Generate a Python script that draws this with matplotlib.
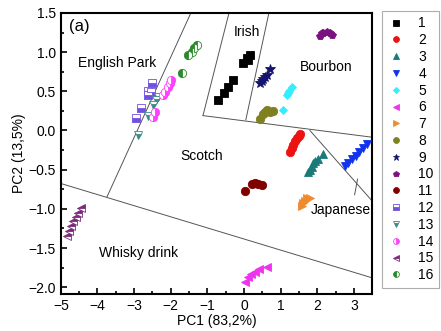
import matplotlib
matplotlib.use("Agg")
import matplotlib.pyplot as plt
from matplotlib.ticker import MultipleLocator

plt.rcParams['font.family'] = ['Liberation Sans', 'DejaVu Sans']

# PCA scores (PC1, PC2) per whisky group
g1_x = [-0.72, -0.55, -0.43, -0.29, -0.02, 0.07, 0.16, 0.1]
g1_y = [0.385, 0.48, 0.56, 0.65, 0.86, 0.92, 0.96, 0.9]
g2_x = [1.26, 1.3, 1.35, 1.4, 1.45, 1.5, 1.52]
g2_y = [-0.28, -0.22, -0.18, -0.14, -0.1, -0.07, -0.05]
g3_x = [1.76, 1.8, 1.85, 1.89, 1.95, 2.03, 2.17]
g3_y = [-0.53, -0.5, -0.47, -0.41, -0.39, -0.36, -0.3]
g4_x = [2.76, 2.85, 2.95, 3.05, 3.15, 3.25, 3.35]
g4_y = [-0.45, -0.41, -0.36, -0.32, -0.27, -0.22, -0.17]
g5_x = [1.06, 1.17, 1.2, 1.24, 1.3]
g5_y = [0.26, 0.45, 0.48, 0.51, 0.555]
g6_x = [0.02, 0.1, 0.2, 0.3, 0.4, 0.62]
g6_y = [-1.93, -1.87, -1.83, -1.8, -1.77, -1.74]
g7_x = [1.58, 1.62, 1.67, 1.72, 1.8]
g7_y = [-0.96, -0.92, -0.9, -0.86, -0.855]
g8_x = [0.44, 0.53, 0.58, 0.62, 0.71, 0.8]
g8_y = [0.15, 0.21, 0.24, 0.26, 0.235, 0.245]
g9_x = [0.44, 0.5, 0.53, 0.58, 0.62, 0.71]
g9_y = [0.6, 0.63, 0.66, 0.68, 0.705, 0.79]
g10_x = [2.08, 2.13, 2.17, 2.26, 2.35, 2.4]
g10_y = [1.2, 1.25, 1.24, 1.26, 1.24, 1.22]
g11_x = [0.03, 0.21, 0.3, 0.39, 0.48]
g11_y = [-0.77, -0.68, -0.675, -0.68, -0.69]
g12_x = [-2.96, -2.8, -2.63, -2.61, -2.54, -2.51]
g12_y = [0.16, 0.29, 0.45, 0.51, 0.49, 0.6]
g13_x = [-2.89, -2.63, -2.48, -2.39, -2.34]
g13_y = [-0.06, 0.19, 0.32, 0.385, 0.43]
g14_x = [-2.48, -2.43, -2.2, -2.16, -2.08, -2.02, -1.98]
g14_y = [0.17, 0.235, 0.45, 0.49, 0.555, 0.6, 0.64]
g15_x = [-4.82, -4.78, -4.72, -4.66, -4.6, -4.52, -4.45]
g15_y = [-1.35, -1.28, -1.22, -1.15, -1.1, -1.05, -0.99]
g16_x = [-1.69, -1.52, -1.43, -1.36, -1.29]
g16_y = [0.73, 0.96, 1.0, 1.05, 1.09]

groups = [(g1_x, g1_y), (g2_x, g2_y), (g3_x, g3_y), (g4_x, g4_y),
          (g5_x, g5_y), (g6_x, g6_y), (g7_x, g7_y), (g8_x, g8_y),
          (g9_x, g9_y), (g10_x, g10_y), (g11_x, g11_y), (g12_x, g12_y),
          (g13_x, g13_y), (g14_x, g14_y), (g15_x, g15_y), (g16_x, g16_y)]
labels = [str(i) for i in range(1, 17)]

# region boundaries (PC1 pairs, PC2 pairs)
bound_x = [[-1.45, -3.74], [-5.0, 3.5], [-0.41, -1.12], [0.68, 0.05],
           [-1.12, 3.5], [1.8, 3.5], [3.1, 3.02]]
bound_y = [[1.5, -0.846], [-0.676, -1.88], [1.5, 0.19], [1.5, 0.137],
           [0.19, -0.086], [0.0, -0.9], [-0.62, -0.82]]

region_names = ["English Park", "Irish", "Bourbon", "Scotch", "Japanese", "Whisky drink"]
region_x = [-4.53, -0.27, 1.53, -1.75, 1.82, -3.96]
region_y = [0.86, 1.26, 0.81, -0.32, -1.01, -1.56]

styles = [
    dict(marker='s', color='black'),
    dict(marker='o', color='#ee1111'),
    dict(marker='^', color='#1a7a78'),
    dict(marker='v', color='#1133ee'),
    dict(marker='D', color='#33eeff', markersize=4.5),
    dict(marker='<', color='#ee33ee'),
    dict(marker='>', color='#f08a30'),
    dict(marker='o', color='#808020'),
    dict(marker='*', color='#14146e', markersize=7),
    dict(marker='p', color='#7b1080'),
    dict(marker='o', color='#800000'),
    dict(marker='s', color='#7050e0', fillstyle='bottom', markerfacecoloralt='white'),
    dict(marker='v', color='#3a8a88', fillstyle='bottom', markerfacecoloralt='white'),
    dict(marker='o', color='#ff40ff', fillstyle='right', markerfacecoloralt='white'),
    dict(marker='<', color='#7a2a7a', fillstyle='top', markerfacecoloralt='white'),
    dict(marker='o', color='#2a8a2a', fillstyle='left', markerfacecoloralt='white'),
]

fig = plt.figure(figsize=(4.41, 3.31), dpi=100)
ax = fig.add_axes([0.138, 0.112, 0.706, 0.849])

for bx, by in zip(bound_x, bound_y):
    ax.plot(bx, by, color='#555555', lw=0.7, zorder=1)

for (x, y), lab, st in zip(groups, labels, styles):
    kw = dict(markersize=6, markeredgewidth=0.6)
    kw.update(st)
    ax.plot(x, y, linestyle='none', label=lab, zorder=3, **kw)

for name, tx, ty in zip(region_names, region_x, region_y):
    ax.text(tx, ty, name, fontsize=10, va='center', ha='left')
ax.text(-4.78, 1.33, "(a)", fontsize=12, va='center', ha='left')

ax.set_xlim(-5, 3.5)
ax.set_ylim(-2.085, 1.5)
ax.xaxis.set_major_locator(MultipleLocator(1))
ax.xaxis.set_minor_locator(MultipleLocator(0.5))
ax.yaxis.set_major_locator(MultipleLocator(0.5))
ax.yaxis.set_minor_locator(MultipleLocator(0.25))
ax.tick_params(which='both', direction='in', labelsize=10, width=1.2)
ax.tick_params(which='major', length=4)
ax.tick_params(which='minor', length=2)
for sp in ax.spines.values():
    sp.set_linewidth(1.5)
ax.set_xlabel("PC1 (83,2%)", fontsize=10, labelpad=1)
ax.set_ylabel("PC2 (13,5%)", fontsize=10, labelpad=2)

leg = ax.legend(loc='upper left', bbox_to_anchor=(1.032, 1.007), fontsize=10,
                frameon=True, fancybox=False, edgecolor='#999999',
                handlelength=1.2, handletextpad=1.0, labelspacing=0.2,
                borderpad=0.4, borderaxespad=0, markerscale=0.7)
leg.get_frame().set_linewidth(0.8)

fig.savefig("out.png", dpi=100)
